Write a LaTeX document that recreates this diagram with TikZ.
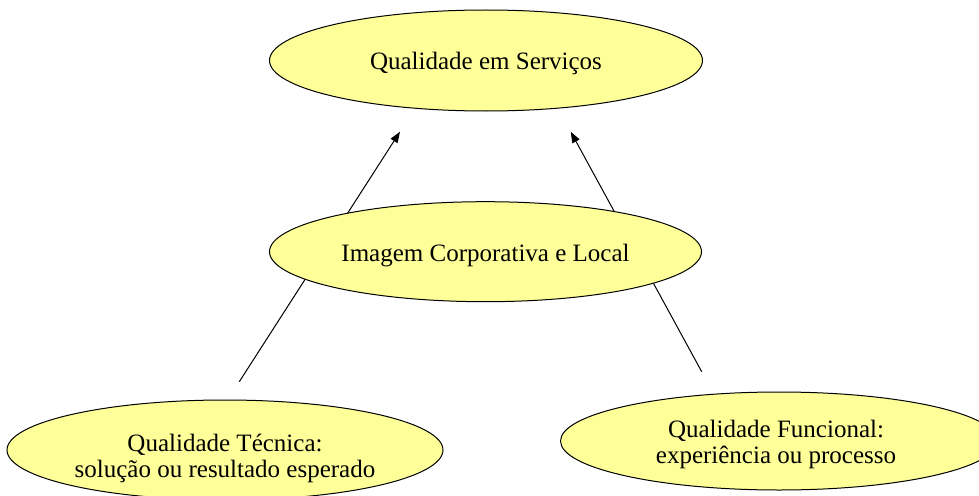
\documentclass[tikz,border=0pt]{standalone}
\usepackage{fontspec}
\setmainfont{Liberation Serif}
\usetikzlibrary{arrows.meta,shapes.geometric}
\definecolor{ellfill}{RGB}{255,255,153}
\tikzset{
  ell/.style={ellipse, draw=black, line width=1pt, fill=ellfill, inner sep=0pt},
  lbl/.style={inner sep=0pt, align=center, font=\fontsize{25}{26}\selectfont},
  conn/.style={draw=black, line width=1pt, -{Triangle[length=11pt,width=8pt]}}
}
\begin{document}
\begin{tikzpicture}[x=1pt,y=-1pt]
\useasboundingbox (0,0) rectangle (979,495);
% connector ends
\coordinate (l0) at (239.3,381.7);
\coordinate (l1) at (400,131.7);
\coordinate (r0) at (701.7,371.7);
\coordinate (r1) at (570.7,131.7);
\draw[conn] (l0) -- (l1);
\draw[conn] (r0) -- (r1);
% ellipses
\node[ell, minimum width=433pt, minimum height=101pt] (top) at (486,60.5) {};
\node[ell, minimum width=432pt, minimum height=100pt] (mid) at (485.5,251.7) {};
\node[ell, minimum width=436pt, minimum height=100pt] (bl) at (225,450) {};
\node[ell, minimum width=437pt, minimum height=98pt] (br) at (779,441) {};
% labels
\node[lbl, anchor=base] (toptext) at (486,70) {Qualidade em Serviços};
\node[lbl, anchor=base] (midtext) at (485.5,261.7) {Imagem Corporativa e Local};
\node[lbl, anchor=center] (bltext) at (225,458.4) {Qualidade Técnica:\\solução ou resultado esperado};
\node[lbl, anchor=center] (brtext) at (776,444.5) {Qualidade Funcional:\\experiência ou processo};
\end{tikzpicture}
\end{document}
